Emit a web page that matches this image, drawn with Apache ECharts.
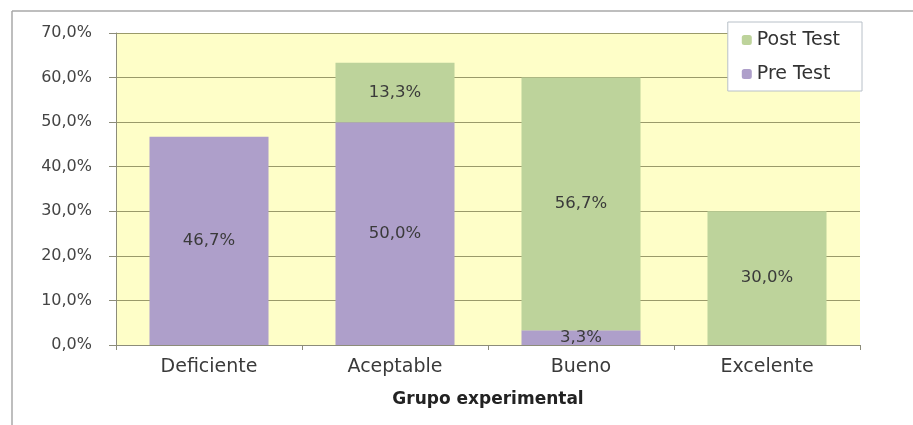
<!DOCTYPE html>
<html><head><meta charset="utf-8">
<script src="https://cdn.jsdelivr.net/npm/echarts@6/dist/echarts.min.js"></script>
<style>html,body{margin:0;padding:0;background:#fff}#c{width:913px;height:425px}</style>
</head><body><div id="c"></div>
<script>
const categories = ['Deficiente', 'Aceptable', 'Bueno', 'Excelente'];
const preTest = [46.7, 50.0, 3.3, 0];
const postTest = [0, 13.3, 56.7, 30.0];
const yTicks = [0, 10, 20, 30, 40, 50, 60, 70];

const fmt = v => v.toFixed(1).replace('.', ',') + '%';
const chart = echarts.init(document.getElementById('c'));
const labelStyle = {
  show: true, position: 'inside', color: '#3a3a3a', fontSize: 16.5,
  fontFamily: 'DejaVu Sans', fontWeight: 'normal',
  formatter: p => p.value ? fmt(p.value) : ''
};
chart.setOption({
  animation: false,
  graphic: [
    { type: 'line', shape: { x1: 12, y1: 11, x2: 913, y2: 11 }, style: { stroke: '#a8a8a8', lineWidth: 1.5 } },
    { type: 'line', shape: { x1: 12, y1: 11, x2: 12, y2: 425 }, style: { stroke: '#a8a8a8', lineWidth: 1.5 } }
  ],
  grid: { left: 116, right: 53, top: 33, bottom: 80, show: true, backgroundColor: '#fefec8', borderWidth: 0 },
  legend: {
    data: ['Post Test', 'Pre Test'], orient: 'vertical', right: 51, top: 22,
    itemWidth: 10, itemHeight: 10, itemGap: 14, padding: [8, 22, 7, 14],
    backgroundColor: '#ffffff', borderColor: '#b8c0c8', borderWidth: 1,
    textStyle: { fontSize: 19, lineHeight: 20, color: '#333', fontFamily: 'DejaVu Sans' }
  },
  xAxis: {
    type: 'category', data: categories,
    name: 'Grupo experimental', nameLocation: 'middle', nameGap: 46,
    nameTextStyle: { fontSize: 17, fontWeight: 'bold', color: '#222', fontFamily: 'DejaVu Sans' },
    axisLine: { lineStyle: { color: '#8c8c7a' } },
    axisTick: { show: true, alignWithLabel: false, length: 5, lineStyle: { color: '#8c8c7a' } },
    axisLabel: { fontSize: 19, color: '#3a3a3a', margin: 13, fontFamily: 'DejaVu Sans' }
  },
  yAxis: {
    type: 'value', min: yTicks[0], max: yTicks[yTicks.length - 1], interval: 10,
    axisLine: { show: true, lineStyle: { color: '#8c8c7a' } },
    axisTick: { show: true, length: 7, lineStyle: { color: '#8c8c7a' } },
    splitLine: { lineStyle: { color: '#9a9a6a', width: 1 } },
    axisLabel: { fontSize: 16, color: '#444', margin: 24, fontFamily: 'DejaVu Sans', formatter: v => fmt(v) }
  },
  series: [
    { name: 'Pre Test', type: 'bar', stack: 'a', data: preTest, barWidth: '64%',
      itemStyle: { color: '#ae9fca' }, label: labelStyle },
    { name: 'Post Test', type: 'bar', stack: 'a', data: postTest, barWidth: '64%',
      itemStyle: { color: '#bdd39b' }, label: labelStyle }
  ]
});
</script></body></html>
